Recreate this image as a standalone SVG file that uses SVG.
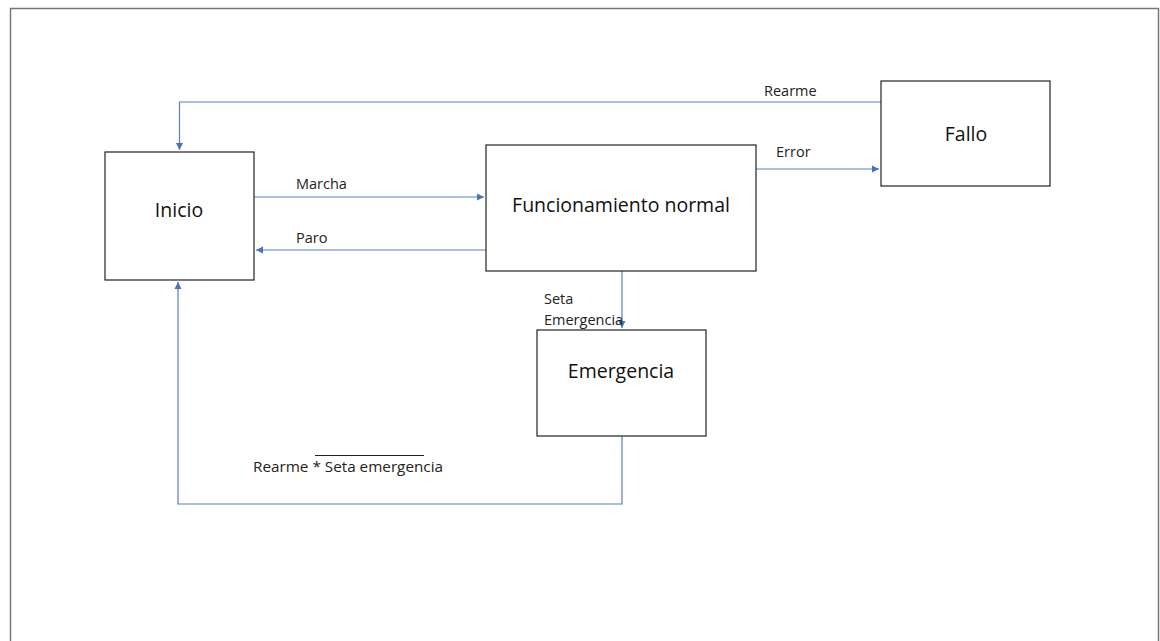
<svg xmlns="http://www.w3.org/2000/svg" width="1160" height="641" viewBox="0 0 1160 641">
<defs>
<marker id="ah" markerWidth="8" markerHeight="8" refX="7" refY="4" orient="auto" markerUnits="userSpaceOnUse">
<path d="M0,0.5 L7,4 L0,7.5 Z" fill="#4a72b8"/>
</marker>
<style>
.box{fill:#fff;stroke:#222;stroke-width:1.2}
.title{font-family:"Open Sans","Liberation Sans",sans-serif;font-size:19.5px;fill:#111;text-anchor:middle}
.lbl{font-family:"Open Sans","Liberation Sans",sans-serif;font-size:14.5px;fill:#222}
.conn{fill:none;stroke:#5b7fbc;stroke-width:1.2}
</style>
</defs>
<rect x="0" y="0" width="1160" height="641" fill="#fff"/>
<path d="M10.5,645 V8.5 H1158.5 V645" fill="none" stroke="#777" stroke-width="1.5"/>
<g id="connectors">
<path class="conn" d="M881,102 H179.5 V150" marker-end="url(#ah)"/>
<path class="conn" d="M254,197 H484" marker-end="url(#ah)"/>
<path class="conn" d="M486,250 H256" marker-end="url(#ah)"/>
<path class="conn" d="M756,169 H879" marker-end="url(#ah)"/>
<path class="conn" d="M622,271 V328" marker-end="url(#ah)"/>
<path class="conn" d="M622,436 V504 H178 V282" marker-end="url(#ah)"/>
<text class="lbl" x="764" y="96">Rearme</text>
<text class="lbl" x="296" y="189">Marcha</text>
<text class="lbl" x="296" y="243">Paro</text>
<text class="lbl" x="776" y="157">Error</text>
<text class="lbl" x="544" y="304">Seta</text>
<text class="lbl" x="544" y="325">Emergencia</text>
<text class="lbl" x="253" y="472" textLength="190" lengthAdjust="spacingAndGlyphs">Rearme * Seta emergencia</text>
<line x1="315" y1="455.5" x2="424" y2="455.5" stroke="#222" stroke-width="1"/>
</g>
<g id="inicio">
<rect class="box" x="105" y="152" width="149" height="128"/>
<text class="title" x="179" y="217">Inicio</text>
</g>
<g id="funcionamiento">
<rect class="box" x="486" y="145" width="270" height="126"/>
<text class="title" x="621" y="212">Funcionamiento normal</text>
</g>
<g id="fallo">
<rect class="box" x="881" y="81" width="169" height="105"/>
<text class="title" x="966" y="141">Fallo</text>
</g>
<g id="emergencia">
<rect class="box" x="537" y="330" width="169" height="106"/>
<text class="title" x="621" y="378">Emergencia</text>
</g>
</svg>
